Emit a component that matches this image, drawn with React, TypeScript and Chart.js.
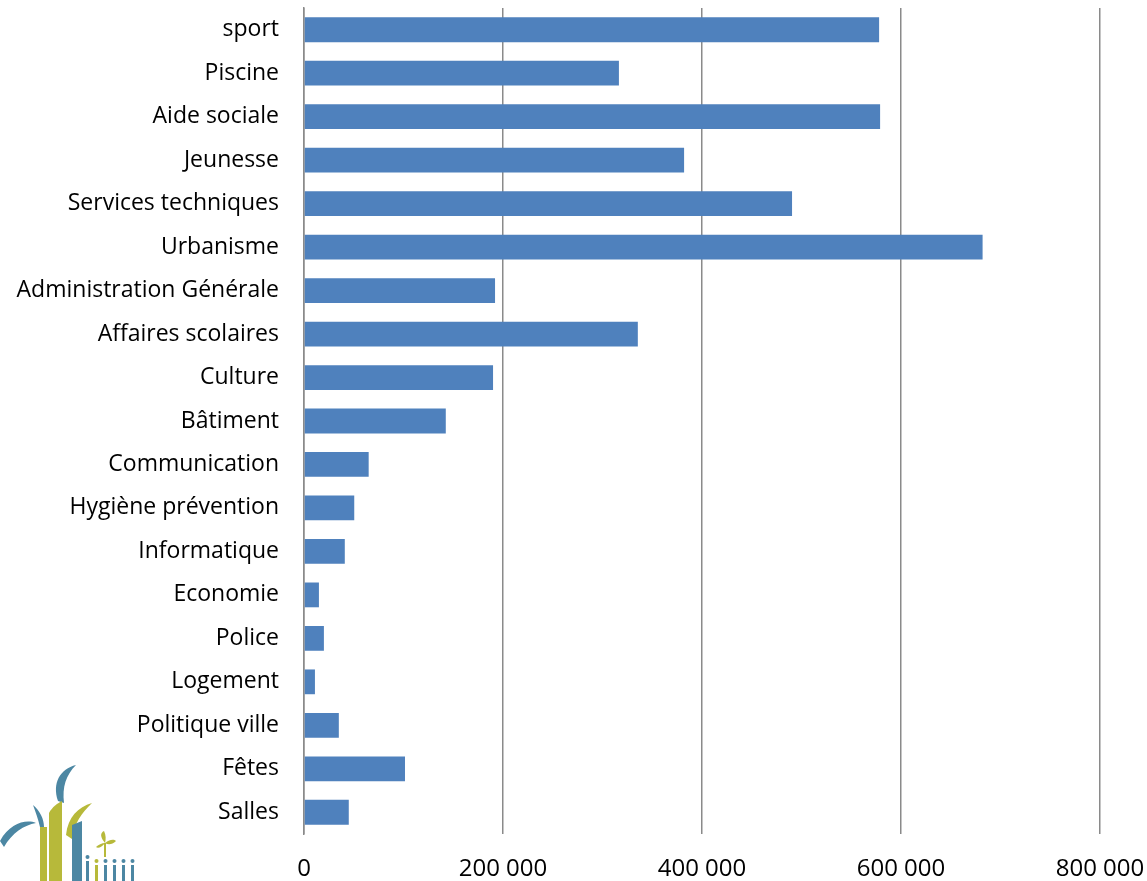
import React, { useEffect, useRef } from "react";
import { Chart, registerables } from "chart.js";

Chart.register(...registerables);

const categories = [
  "sport",
  "Piscine",
  "Aide sociale",
  "Jeunesse",
  "Services techniques",
  "Urbanisme",
  "Administration Générale",
  "Affaires scolaires",
  "Culture",
  "Bâtiment",
  "Communication",
  "Hygiène prévention",
  "Informatique",
  "Economie",
  "Police",
  "Logement",
  "Politique ville",
  "Fêtes",
  "Salles",
];

const values = [
  578000, 316500, 579000, 382000, 490500, 682000, 192000, 335500, 190000,
  142500, 65000, 50500, 41000, 15000, 20000, 11000, 35000, 101500, 45000,
];

const xMin = 0;
const xMax = 800000;
const xStep = 200000;

const FONT = "'Open Sans', 'Noto Sans', sans-serif";

function Logo() {
  return (
    <svg
      width={140}
      height={120}
      viewBox="0 0 140 120"
      style={{ position: "absolute", left: 0, top: 761 }}
    >
      <path d="M58 40 C52 22 60 8 76 4 C66 14 62 26 64 42 Z" fill="#4c87a3" />
      <path d="M0 80 C10 62 26 58 36 62 C24 64 12 72 4 86 Z" fill="#4c87a3" />
      <path d="M33 44 C40 50 44 58 44 66 L40 66 C38 58 36 52 33 44 Z" fill="#4c87a3" />
      <path d="M40 66 L47 66 L47 120 L40 120 Z" fill="#b7b93a" />
      <path d="M49 52 C52 46 58 42 62 40 L62 120 L49 120 Z" fill="#b7b93a" />
      <path d="M66 74 C68 56 78 46 92 42 C82 52 74 62 72 78 Z" fill="#b7b93a" />
      <path d="M72 64 L82 60 L82 120 L72 120 Z" fill="#4c87a3" />
      <path d="M105 82 C100 76 100 72 104 70 C106 74 106 78 105 82 Z" fill="#b7b93a" />
      <path d="M105 82 C110 78 114 78 116 80 C112 84 108 84 105 82 Z" fill="#b7b93a" />
      <path d="M105 82 C102 86 98 88 96 86 C98 84 102 82 105 82 Z" fill="#b7b93a" />
      <rect x="104" y="82" width="2" height="14" fill="#b7b93a" />
      <rect x="86" y="100" width="3" height="20" fill="#4c87a3" />
      <circle cx="87.5" cy="96" r="2" fill="#4c87a3" />
      <rect x="95" y="104" width="3" height="16" fill="#b7b93a" />
      <circle cx="96.5" cy="100" r="2" fill="#b7b93a" />
      <rect x="104" y="104" width="3" height="16" fill="#4c87a3" />
      <circle cx="105.5" cy="100" r="2" fill="#4c87a3" />
      <rect x="113" y="104" width="3" height="16" fill="#4c87a3" />
      <circle cx="114.5" cy="100" r="2" fill="#4c87a3" />
      <rect x="122" y="104" width="3" height="16" fill="#4c87a3" />
      <circle cx="123.5" cy="100" r="2" fill="#4c87a3" />
      <rect x="131" y="104" width="3" height="16" fill="#4c87a3" />
      <circle cx="132.5" cy="100" r="2" fill="#4c87a3" />
    </svg>
  );
}

function zeroPad(scale: any) {
  scale.paddingTop = 0;
  scale.paddingBottom = 0;
  scale.paddingLeft = 0;
  scale.paddingRight = 0;
}

export default function App() {
  const canvasRef = useRef<HTMLCanvasElement | null>(null);

  useEffect(() => {
    if (!canvasRef.current) return;
    const chart = new Chart(canvasRef.current, {
      type: "bar",
      data: {
        labels: categories,
        datasets: [
          {
            data: values,
            backgroundColor: "#4f81bd",
            borderWidth: 0,
            categoryPercentage: 1,
            barPercentage: 0.57,
          },
        ],
      },
      options: {
        indexAxis: "y",
        animation: false,
        responsive: false,
        maintainAspectRatio: false,
        layout: { padding: { top: 8, right: 47, bottom: 0, left: 0 } },
        plugins: {
          legend: { display: false },
          title: { display: false },
          tooltip: { enabled: false },
        },
        scales: {
          x: {
            type: "linear",
            min: xMin,
            max: xMax,
            position: "bottom",
            ticks: {
              stepSize: xStep,
              color: "#000",
              font: { family: FONT, size: 24 },
              padding: 21,
              maxRotation: 0,
              callback: (v: any) =>
                Number(v).toLocaleString("en-US").replace(/,/g, " "),
            },
            grid: {
              color: "#8a8a8a",
              lineWidth: 1.5,
              drawTicks: false,
            },
            border: { display: false },
            afterFit: (scale: any) => {
              scale.height = 47;
              zeroPad(scale);
            },
          },
          y: {
            type: "category",
            ticks: {
              color: "#000",
              font: { family: FONT, size: 23 },
              padding: 25,
              autoSkip: false,
            },
            grid: { display: false, drawTicks: false },
            border: { display: true, color: "#8a8a8a", width: 1.5 },
            afterFit: (scale: any) => {
              scale.width = 304;
              zeroPad(scale);
            },
          },
        },
      },
    });
    return () => chart.destroy();
  }, []);

  return (
    <div
      style={{
        position: "fixed",
        left: 0,
        top: 0,
        width: 1147,
        height: 881,
        background: "#fff",
        overflow: "hidden",
      }}
    >
      <canvas
        ref={canvasRef}
        width={1147}
        height={881}
        style={{ position: "absolute", left: 0, top: 0, width: 1147, height: 881 }}
      />
      <Logo />
    </div>
  );
}
